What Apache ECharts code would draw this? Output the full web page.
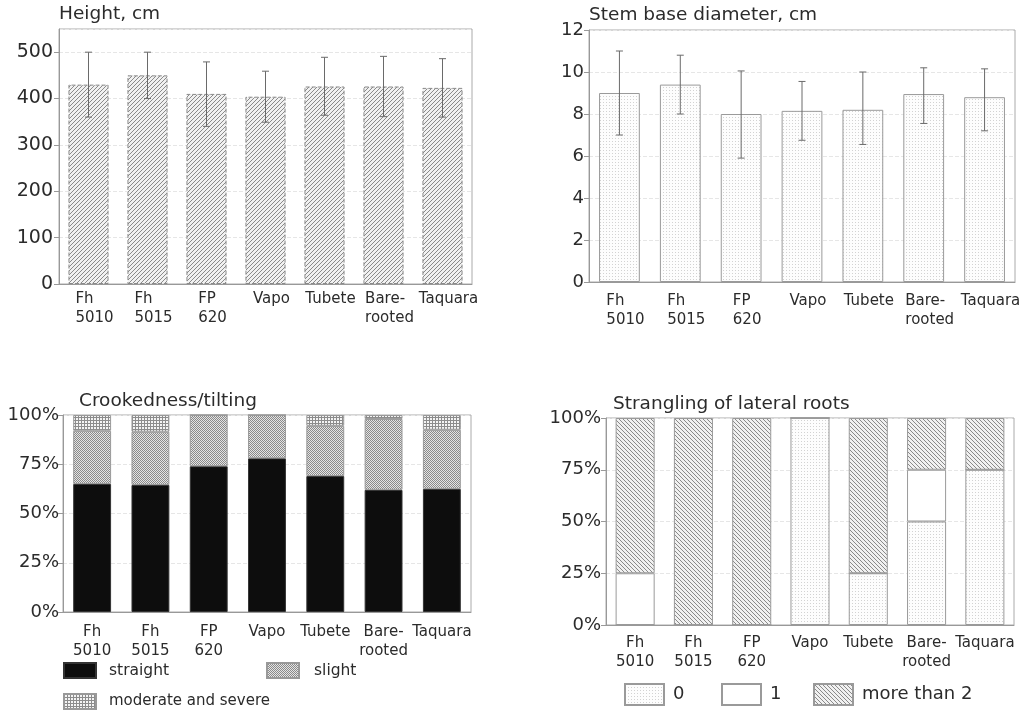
<!DOCTYPE html>
<html>
<head>
<meta charset="utf-8">
<script src="https://cdn.jsdelivr.net/npm/echarts@6/dist/echarts.min.js"></script>
<style>
html,body{margin:0;padding:0;background:#fff;}
#c{width:1031px;height:716px;}
</style>
</head>
<body>
<div id="c"></div>
<script>
// ---- data ----
var categories = ['Fh\n5010', 'Fh\n5015', 'FP\n620', 'Vapo', 'Tubete', 'Bare-\nrooted', 'Taquara'];

var heightMean = [430, 450, 410, 404, 426, 426, 423];
var heightLow  = [360, 400, 340, 349, 364, 361, 360];
var heightHigh = [500, 500, 479, 459, 489, 491, 486];

var diamMean = [9.0, 9.4, 8.0, 8.15, 8.2, 8.95, 8.8];
var diamLow  = [7.0, 8.0, 5.9, 6.75, 6.55, 7.55, 7.2];
var diamHigh = [11.0, 10.8, 10.05, 9.55, 10.0, 10.2, 10.15];

var crookStraight = [65, 64.5, 74, 78, 69, 62, 62.5];
var crookSlight   = [27, 27, 26, 22, 25.5, 36, 30];
var crookModerate = [8, 8.5, 0, 0, 5.5, 2, 7.5];

var strangle0    = [0, 0, 0, 100, 25, 50, 75];
var strangle1    = [25, 0, 0, 0, 0, 25, 0];
var strangleMore = [75, 100, 100, 0, 75, 25, 25];

var titles = ['Height, cm', 'Stem base diameter, cm', 'Crookedness/tilting', 'Strangling of lateral roots'];

// ---- patterns ----
function tile(n, fn) {
  var c = document.createElement('canvas');
  c.width = n; c.height = n;
  var ctx = c.getContext('2d');
  for (var y = 0; y < n; y++) for (var x = 0; x < n; x++) {
    ctx.fillStyle = fn(x, y);
    ctx.fillRect(x, y, 1, 1);
  }
  return {image: c, repeat: 'repeat'};
}
var patHeight = tile(4, function (x, y) { return (x + y) % 4 === 3 ? '#8a8a8a' : '#f1f1f1'; });
var patDots = tile(3, function (x, y) { return (x === 0 && y === 0) ? '#d2d2d2' : '#fdfdfd'; });
var patChecker = tile(2, function (x, y) { return (x + y) % 2 === 0 ? '#8a8a8a' : '#e4e4e4'; });
var patGrid = tile(3, function (x, y) { return (x === 0 || y === 0) ? '#8c8c8c' : '#f4f4f4'; });
var patBack = tile(4, function (x, y) { return ((x - y + 4) % 4) === 0 ? '#8a8a8a' : '#f1f1f1'; });

var FONT = 'DejaVu Sans';
var TXT = '#2b2b2b';

function xAxis(gi, leftLines, margin) {
  var label = {
    margin: margin, interval: 0,
    fontFamily: FONT, fontSize: 15, lineHeight: 19, color: TXT
  };
  if (leftLines) {
    label.padding = [0, 0, 0, 12];
    label.formatter = function (v) { return v.split('\n').map(function (s) { return '{l|' + s + '}'; }).join('\n'); };
    label.rich = {l: {align: 'left', fontFamily: FONT, fontSize: 15, lineHeight: 19, color: TXT}};
  }
  return {
    type: 'category', gridIndex: gi, data: categories,
    axisLine: {lineStyle: {color: '#999'}},
    axisTick: {show: true, alignWithLabel: true, inside: true, length: 4, lineStyle: {color: '#999'}},
    axisLabel: label
  };
}
function yAxis(gi, max, interval, pct, hideMax, fs, margin) {
  return {
    type: 'value', gridIndex: gi, min: 0, max: max, interval: interval,
    axisLine: {show: true, lineStyle: {color: '#999'}},
    axisTick: {show: true, length: 5, lineStyle: {color: '#999'}},
    splitLine: {show: true, lineStyle: {color: '#e6e6e6', type: 'dashed'}},
    axisLabel: {
      margin: margin, fontFamily: FONT, fontSize: fs, color: TXT, showMaxLabel: !hideMax,
      formatter: function (v) { return pct ? v + '%' : String(v); }
    }
  };
}
function errSeries(gi, low, high) {
  var data = low.map(function (l, i) { return [i, l, high[i]]; });
  return {
    type: 'custom', xAxisIndex: gi, yAxisIndex: gi, z: 5, silent: true,
    data: data,
    renderItem: function (params, api) {
      var a = api.coord([api.value(0), api.value(1)]);
      var b = api.coord([api.value(0), api.value(2)]);
      var st = {stroke: '#6a6a6a', lineWidth: 1};
      var w = 3.5;
      return {type: 'group', children: [
        {type: 'line', shape: {x1: a[0], y1: a[1], x2: b[0], y2: b[1]}, style: st},
        {type: 'line', shape: {x1: a[0] - w, y1: a[1], x2: a[0] + w, y2: a[1]}, style: st},
        {type: 'line', shape: {x1: b[0] - w, y1: b[1], x2: b[0] + w, y2: b[1]}, style: st}
      ]};
    }
  };
}
function titleObj(text, left, top) {
  return {text: text, left: left, top: top, padding: 0,
    textStyle: {fontFamily: FONT, fontSize: 18.5, fontWeight: 'normal', color: TXT}};
}
function legendObj(name, left, top, w, h, fs, gap) {
  return {data: [name], left: left, top: top, orient: 'horizontal', selectedMode: false,
    icon: 'rect', itemWidth: w, itemHeight: h, itemGap: 0, padding: 0,
    textStyle: {fontFamily: FONT, fontSize: fs, color: TXT, padding: [0, 0, 0, gap]}};
}

var chart = echarts.init(document.getElementById('c'), null, {renderer: 'canvas'});
chart.setOption({
  backgroundColor: '#fff',
  animation: false,
  title: [
    titleObj(titles[0], 59, 5),
    titleObj(titles[1], 589, 6),
    titleObj(titles[2], 79, 392),
    titleObj(titles[3], 613, 395)
  ],
  legend: [
    legendObj('straight', 63, 662, 32, 15, 15.5, 8),
    legendObj('slight', 266, 662, 32, 15, 15.5, 10),
    legendObj('moderate and severe', 63, 693, 32, 15, 15, 8),
    legendObj('0', 624, 683, 39, 21, 18, 4),
    legendObj('1', 721, 683, 39, 21, 18, 4),
    legendObj('more than 2', 813, 683, 39, 21, 18, 4)
  ],
  grid: [
    {left: 59, top: 29, width: 413, height: 255, show: true, borderColor: '#aaa', borderWidth: 1},
    {left: 589, top: 30, width: 426, height: 252, show: true, borderColor: '#aaa', borderWidth: 1},
    {left: 63, top: 415, width: 408, height: 197, show: true, borderColor: '#aaa', borderWidth: 1},
    {left: 606, top: 418, width: 408, height: 207, show: true, borderColor: '#aaa', borderWidth: 1}
  ],
  xAxis: [xAxis(0, true, 5.5), xAxis(1, true, 10), xAxis(2, false, 11), xAxis(3, false, 8.5)],
  yAxis: [
    yAxis(0, 550, 100, false, true, 19, 6),
    yAxis(1, 12, 2, false, false, 18, 5),
    yAxis(2, 100, 25, true, false, 18, 4),
    yAxis(3, 100, 25, true, false, 18, 5)
  ],
  series: [
    {name: 'Height', type: 'bar', xAxisIndex: 0, yAxisIndex: 0, data: heightMean, barWidth: '68%',
      itemStyle: {color: patHeight, borderColor: '#8a8a8a', borderWidth: 1, borderType: 'dashed'}},
    errSeries(0, heightLow, heightHigh),
    {name: 'Stem', type: 'bar', xAxisIndex: 1, yAxisIndex: 1, data: diamMean, barWidth: '67%',
      itemStyle: {color: patDots, borderColor: '#9a9a9a', borderWidth: 1}},
    errSeries(1, diamLow, diamHigh),
    {name: 'straight', type: 'bar', stack: 'crook', xAxisIndex: 2, yAxisIndex: 2, data: crookStraight, barWidth: '65%',
      itemStyle: {color: '#0d0d0d', borderColor: '#333', borderWidth: 1}},
    {name: 'slight', type: 'bar', stack: 'crook', xAxisIndex: 2, yAxisIndex: 2, data: crookSlight, barWidth: '65%',
      itemStyle: {color: patChecker, borderColor: '#999', borderWidth: 1}},
    {name: 'moderate and severe', type: 'bar', stack: 'crook', xAxisIndex: 2, yAxisIndex: 2, data: crookModerate, barWidth: '65%',
      itemStyle: {color: patGrid, borderColor: '#999', borderWidth: 1}},
    {name: '0', type: 'bar', stack: 'str', xAxisIndex: 3, yAxisIndex: 3, data: strangle0, barWidth: '67%',
      itemStyle: {color: patDots, borderColor: '#9a9a9a', borderWidth: 1}},
    {name: '1', type: 'bar', stack: 'str', xAxisIndex: 3, yAxisIndex: 3, data: strangle1, barWidth: '67%',
      itemStyle: {color: '#ffffff', borderColor: '#9a9a9a', borderWidth: 1}},
    {name: 'more than 2', type: 'bar', stack: 'str', xAxisIndex: 3, yAxisIndex: 3, data: strangleMore, barWidth: '67%',
      itemStyle: {color: patBack, borderColor: '#9a9a9a', borderWidth: 1}}
  ]
});
</script>
</body>
</html>
